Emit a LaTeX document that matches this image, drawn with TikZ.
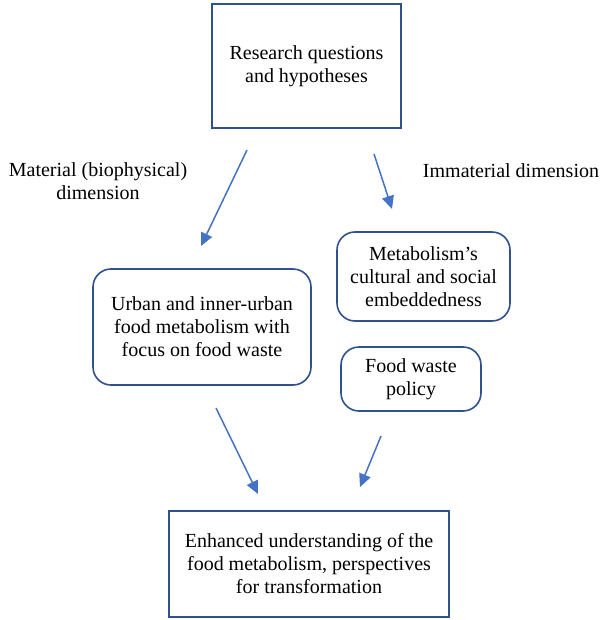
\documentclass[tikz,border=0pt]{standalone}
\usepackage{fontspec}
\setmainfont{Liberation Serif}
\usetikzlibrary{arrows.meta}
\definecolor{boxblue}{HTML}{2F528F}
\definecolor{arrowblue}{HTML}{4472C4}
\begin{document}
\begin{tikzpicture}[x=1pt,y=-1pt,
  every node/.style={font=\fontsize{20}{23}\selectfont, align=center, inner sep=0pt},
  sqbox/.style={draw=boxblue, line width=1.6pt, fill=white},
  rbox/.style={sqbox, rounded corners=18pt},
  flow/.style={draw=arrowblue, line width=1.5pt, -{Triangle[length=13pt,width=12pt]}}]
  \useasboundingbox (0,0) rectangle (601,620);

  % boxes
  \node[sqbox, minimum width=189pt, minimum height=124pt] (rq) at (306.5,66) {Research questions\\and hypotheses};
  \node[rbox, minimum width=218pt, minimum height=116pt] (mat) at (202,327) {Urban and inner-urban\\food metabolism with\\focus on food waste};
  \node[rbox, minimum width=173pt, minimum height=89pt] (cult) at (423.5,276.5) {Metabolism’s\\cultural and social\\embeddedness};
  \node[rbox, minimum width=140pt, minimum height=64pt] (pol) at (411,379) {Food waste\\policy};
  \node[sqbox, minimum width=280pt, minimum height=106pt] (out) at (309,564) {Enhanced understanding of the\\food metabolism, perspectives\\for transformation};

  % dimension labels
  \node (lmat) at (98,181) {Material (biophysical)\\dimension};
  \node (limm) at (511,171) {Immaterial dimension};

  % arrow end points
  \coordinate (a1s) at (247,150); \coordinate (a1e) at (201,246);
  \coordinate (a2s) at (374,154); \coordinate (a2e) at (392,209);
  \coordinate (a3s) at (216,408); \coordinate (a3e) at (258,494);
  \coordinate (a4s) at (381,436); \coordinate (a4e) at (360,487);

  \draw[flow] (a1s) -- (a1e);
  \draw[flow] (a2s) -- (a2e);
  \draw[flow] (a3s) -- (a3e);
  \draw[flow] (a4s) -- (a4e);
\end{tikzpicture}
\end{document}
